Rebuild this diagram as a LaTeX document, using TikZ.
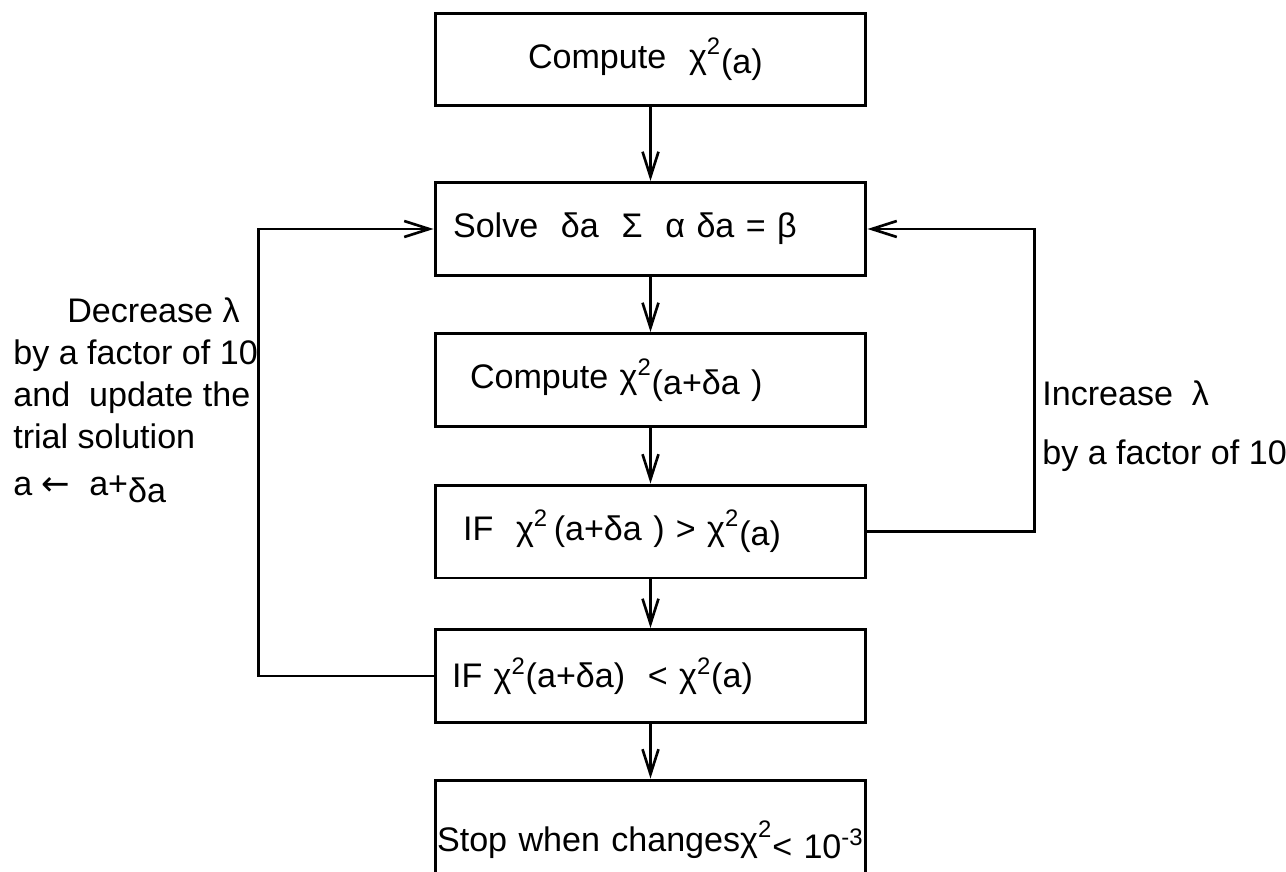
\documentclass[tikz,border=0pt]{standalone}
\usepackage{fontspec}
\setmainfont{Liberation Sans}
\newfontfamily\arrowfont{DejaVu Sans}
\usepackage{tikz}
\usetikzlibrary{arrows.meta,positioning}

\begin{document}
\begin{tikzpicture}[x=0.02cm,y=-0.02cm,font=\fontsize{19.4}{24}\selectfont,
  stepbox/.style={draw,line width=1.7pt,text width=8.62cm,inner xsep=0pt,minimum height=1.86cm,align=left},
  flow/.style={line width=1.5pt,-{Straight Barb[length=0.5cm,width=0.32cm,line width=1.5pt]}},
  side/.style={anchor=north west,align=left,inner sep=0pt}]
  \useasboundingbox (0,0) rectangle (1286,872);
  \node[stepbox] (cchi) at (650.5,59.5) {\hspace*{1.86cm}Compute\ \ χ\textsuperscript{2}\raisebox{-0.3ex}{(a)}};
  \node[stepbox] (solve) at (650.5,229) {\hspace*{0.36cm}Solve\ \ δa\ \ Σ\ \ α δa = β};
  \node[stepbox] (ctrial) at (650.5,380) {\hspace*{0.7cm}Compute χ\textsuperscript{2}\raisebox{-0.3ex}{(a+δa )}};
  \node[stepbox] (ifup) at (650.5,531.5) {\hspace*{0.56cm}IF\ \ χ\textsuperscript{2}\,(a+δa ) > χ\textsuperscript{2}\raisebox{-0.3ex}{(a)}};
  \node[stepbox] (ifdown) at (650.5,676) {\hspace*{0.34cm}IF χ\textsuperscript{2}(a+δa)\ \ < χ\textsuperscript{2}(a)};
  \node[stepbox,minimum height=2.4cm] (stop) at (650.5,840) {\hspace*{0.04cm}Stop when changesχ\textsuperscript{2}\raisebox{-0.4ex}{< 10\textsuperscript{-3}}};
  \foreach \a/\b in {cchi/solve,solve/ctrial,ctrial/ifup,ifup/ifdown,ifdown/stop}
    \draw[flow] (\a) -- (\b);
  \draw[flow] (ifdown.west) -- ++(-175,0) |- (solve.west);
  \draw[flow] (ifup.east) -- ++(167,0) |- (solve.east);
  \node[side] (decr) at (13,297) {\hspace*{1.08cm}Decrease λ\\by a factor of 10\\and\ \ update the\\trial solution\\[0.1cm]a {\arrowfont ←}\ \ a+\raisebox{-0.4ex}{δa}};
  \node[side] (incr) at (1042,380) {Increase\ \ λ\\[0.35cm]by a factor of 10};
\end{tikzpicture}
\end{document}
